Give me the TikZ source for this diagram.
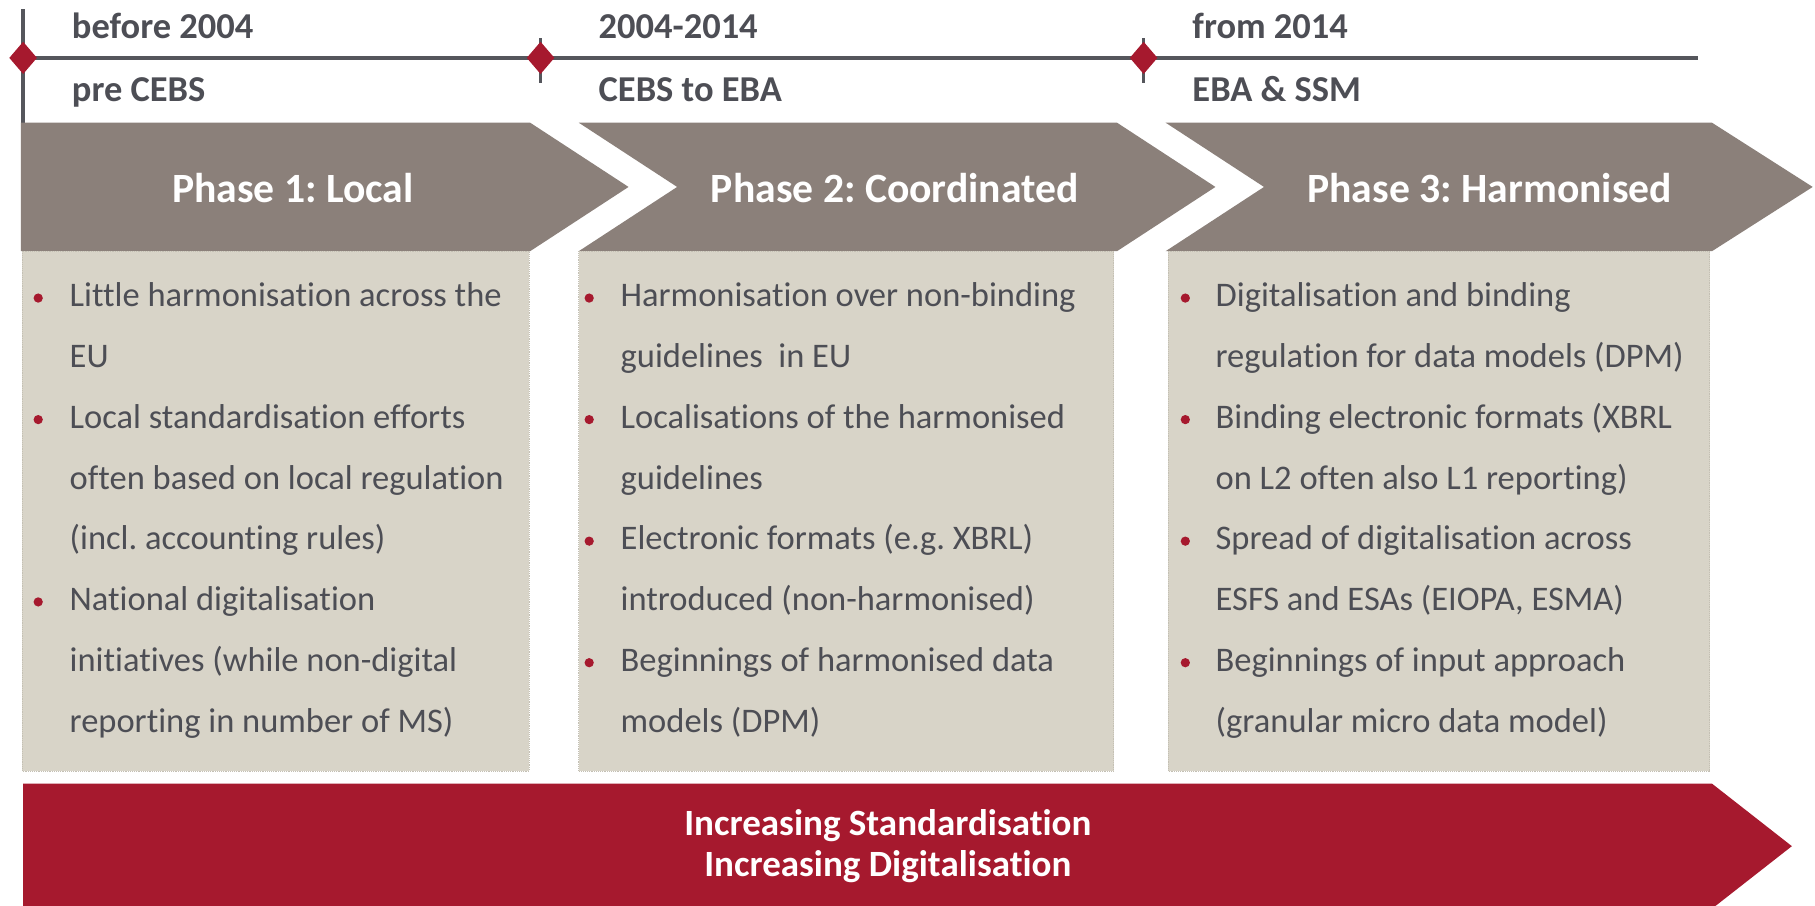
\documentclass[tikz,border=0pt]{standalone}
\usepackage{fontspec}
\setmainfont{Carlito}[Ligatures=NoCommon]
\usetikzlibrary{shapes.geometric}
\definecolor{crim}{HTML}{A6192E}
\definecolor{phgrey}{HTML}{8B807A}
\definecolor{beige}{HTML}{D8D4C8}
\definecolor{txt}{HTML}{4D4E55}
\definecolor{tline}{HTML}{55565C}
\definecolor{bord}{HTML}{C4C0B4}
\frenchspacing
\begin{document}
\begin{tikzpicture}[x=1pt,y=-1pt,
  tl/.style={draw=tline,line width=3pt},
  mark diamond/.style={diamond,fill=crim,draw=none,minimum width=24pt,minimum height=28pt,inner sep=0pt},
  phase/.style={fill=phgrey,draw=none},
  infobox/.style={fill=beige,draw=bord,densely dotted,line width=0.6pt},
  bigarrow/.style={fill=crim,draw=none},
  datetext/.style={anchor=base west,inner sep=0pt,text=txt,font=\fontsize{31.5}{36}\selectfont\bfseries},
  phtext/.style={anchor=base,inner sep=0pt,text=white,font=\fontsize{36}{42}\selectfont\bfseries},
  bodytext/.style={anchor=base west,inner sep=0pt,text=txt,font=\fontsize{29.8}{35}\selectfont},
  bottext/.style={anchor=base,inner sep=0pt,text=white,font=\fontsize{32}{38}\selectfont\bfseries},
  bul/.style={fill=crim,draw=none}
]
\useasboundingbox (0,0) rectangle (1568,782);
\fill[white] (0,0) rectangle (1568,782);

% ---- timeline ----
\coordinate (t1) at (20,50);
\coordinate (t2) at (467,50);
\coordinate (t3) at (988,50);
\coordinate (tend) at (1467,50);
\coordinate (k1a) at (20,8);   \coordinate (k1b) at (20,106);
\coordinate (k2a) at (467,33); \coordinate (k2b) at (467,72);
\coordinate (k3a) at (988,33); \coordinate (k3b) at (988,72);
\draw[tl] (t1) -- (tend);
\draw[tl] (k1a) -- (k1b);
\draw[tl] (k2a) -- (k2b);
\draw[tl] (k3a) -- (k3b);
\node[mark diamond] (d1) at (t1) {};
\node[mark diamond] (d2) at (t2) {};
\node[mark diamond] (d3) at (t3) {};

\node[datetext] (y1) at (62,33) {before 2004};
\node[datetext] (o1) at (62,88) {pre CEBS};
\node[datetext] (y2) at (517,33) {2004-2014};
\node[datetext] (o2) at (517,88) {CEBS to EBA};
\node[datetext] (y3) at (1030,33) {from 2014};
\node[datetext] (o3) at (1030,88) {EBA \& SSM};

% ---- phase chevrons ----
\fill[phase] (18,106) -- (458,106) -- (543,161.5) -- (458,217) -- (18,217) -- cycle;
\fill[phase] (500,106) -- (965,106) -- (1050,161.5) -- (965,217) -- (500,217) -- (585,161.5) -- cycle;
\fill[phase] (1007,106) -- (1479,106) -- (1566,161.5) -- (1479,217) -- (1007,217) -- (1092,161.5) -- cycle;
\node[phtext] (p1) at (253,175) {Phase 1: Local};
\node[phtext] (p2) at (773,175) {Phase 2: Coordinated};
\node[phtext] (p3) at (1287,175) {Phase 3: Harmonised};

% ---- content boxes ----
\draw[infobox] (19,217) rectangle (457,666);
\draw[infobox] (500,217) rectangle (962,666);
\draw[infobox] (1009,217) rectangle (1477,666);

\foreach \t/\b [count=\i from 0] in {
  {Little harmonisation across the}/1, {EU}/0,
  {Local standardisation efforts}/1, {often based on local regulation}/0, {(incl. accounting rules)}/0,
  {National digitalisation}/1, {initiatives (while non-digital}/0, {reporting in number of MS)}/0} {
  \node[bodytext] (a\i) at (60,{265+52.5*\i}) {\t};
  \ifnum\b=1 \fill[bul] (33,{257.5+52.5*\i}) circle (4); \fi
}
\foreach \t/\b [count=\i from 0] in {
  {Harmonisation over non-binding}/1, {guidelines\space\space in EU}/0,
  {Localisations of the harmonised}/1, {guidelines}/0,
  {Electronic formats (e.g. XBRL)}/1, {introduced (non-harmonised)}/0,
  {Beginnings of harmonised data}/1, {models (DPM)}/0} {
  \node[bodytext] (b\i) at (536,{265+52.5*\i}) {\t};
  \ifnum\b=1 \fill[bul] (509,{257.5+52.5*\i}) circle (4); \fi
}
\foreach \t/\b [count=\i from 0] in {
  {Digitalisation and binding}/1, {regulation for data models (DPM)}/0,
  {Binding electronic formats (XBRL}/1, {on L2 often also L1 reporting)}/0,
  {Spread of digitalisation across}/1, {ESFS and ESAs (EIOPA, ESMA)}/0,
  {Beginnings of input approach}/1, {(granular micro data model)}/0} {
  \node[bodytext] (c\i) at (1050,{265+52.5*\i}) {\t};
  \ifnum\b=1 \fill[bul] (1024,{257.5+52.5*\i}) circle (4); \fi
}

% ---- bottom arrow ----
\fill[bigarrow] (20,677) -- (1479,677) -- (1548,731) -- (1479,785) -- (20,785) -- cycle;
\node[bottext] (s1) at (767,722) {Increasing Standardisation};
\node[bottext] (s2) at (767,757) {Increasing Digitalisation};
\end{tikzpicture}
\end{document}
